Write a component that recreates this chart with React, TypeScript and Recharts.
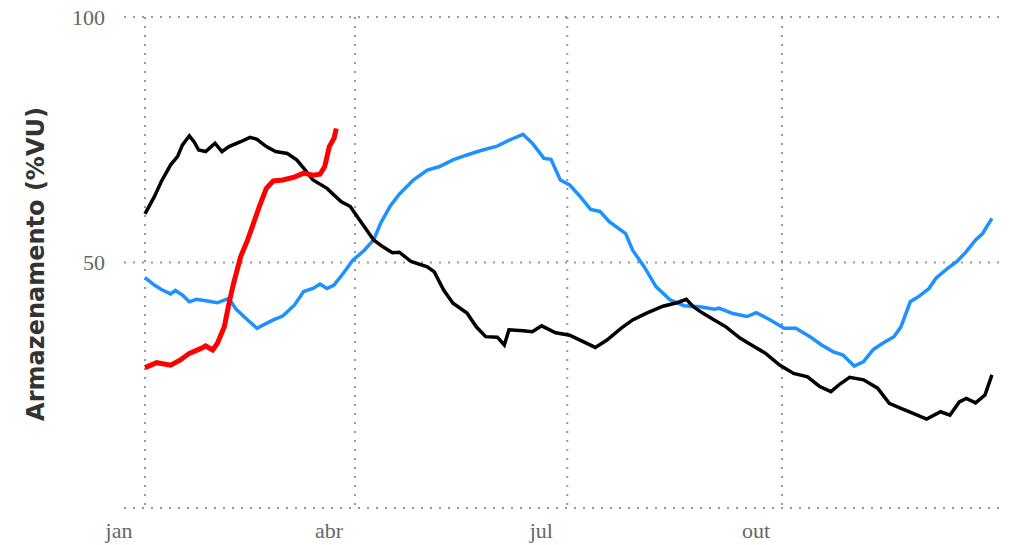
import { LineChart, Line, XAxis, YAxis, CartesianGrid } from "recharts";

// day of year (0 = 1 jan) and storage (%VU)
const blackDays = [0, 4, 7, 11, 14, 16, 19, 21, 23, 26, 30, 33, 36, 41, 45, 48, 52, 56, 61, 65, 68, 72, 78, 84, 88, 91, 95, 98, 102, 106, 109, 114, 121, 124, 128, 132, 138, 142, 146, 151, 154, 156, 162, 166, 170, 176, 182, 186, 193, 198, 204, 209, 215, 222, 228, 232, 235, 239, 244, 249, 255, 261, 266, 272, 278, 284, 289, 294, 298, 302, 308, 314, 319, 324, 329, 335, 341, 345, 349, 352, 356, 360, 363];
const blackVals = [59.9, 63.4, 66.5, 69.9, 71.6, 73.9, 75.8, 74.6, 72.9, 72.6, 74.3, 72.6, 73.6, 74.6, 75.5, 75.1, 73.6, 72.6, 72.2, 70.9, 69.2, 66.8, 65.1, 62.4, 61.4, 59.3, 56.6, 54.6, 53.2, 52.0, 52.1, 50.2, 49.1, 48.1, 44.4, 41.7, 39.7, 36.9, 34.9, 34.8, 33.2, 36.3, 36.1, 35.9, 37.1, 35.7, 35.2, 34.3, 32.7, 34.2, 36.6, 38.3, 39.7, 41.1, 41.8, 42.5, 41.0, 39.7, 38.3, 36.9, 34.6, 32.9, 31.5, 29.1, 27.4, 26.7, 24.8, 23.7, 25.3, 26.6, 26.1, 24.4, 21.3, 20.3, 19.3, 18.1, 19.6, 18.9, 21.6, 22.3, 21.4, 23.0, 27.1];

const blueDays = [0, 4, 7, 11, 13, 16, 19, 22, 26, 31, 36, 39, 44, 48, 52, 55, 59, 64, 68, 72, 75, 78, 81, 85, 89, 94, 98, 101, 105, 109, 115, 121, 126, 132, 138, 144, 151, 156, 162, 166, 171, 174, 178, 182, 186, 191, 195, 199, 206, 209, 214, 219, 225, 231, 238, 244, 246, 252, 258, 262, 268, 274, 279, 285, 290, 295, 299, 304, 308, 312, 316, 321, 324, 328, 332, 336, 339, 344, 348, 352, 356, 359, 363];
const blueVals = [46.9, 45.4, 44.5, 43.6, 44.3, 43.4, 42.0, 42.5, 42.2, 41.8, 42.7, 40.5, 38.3, 36.6, 37.6, 38.3, 39.1, 41.3, 44.1, 44.7, 45.6, 44.7, 45.4, 47.8, 50.4, 52.5, 54.6, 58.0, 61.4, 63.9, 66.8, 68.8, 69.5, 70.9, 71.9, 72.8, 73.7, 74.9, 76.1, 74.3, 71.2, 71.0, 66.8, 65.8, 63.7, 60.8, 60.4, 58.3, 55.9, 52.5, 49.1, 45.1, 42.4, 41.2, 41.0, 40.5, 40.7, 39.6, 39.0, 39.8, 38.3, 36.6, 36.6, 34.9, 33.2, 31.8, 31.2, 28.9, 29.8, 32.2, 33.5, 34.9, 36.9, 42.0, 43.2, 44.7, 46.8, 48.8, 50.2, 52.2, 54.6, 55.9, 59.0];

const redDays = [0, 5, 11, 15, 19, 24, 26, 29, 31, 34, 36, 38, 41, 44, 46, 49, 52, 55, 59, 64, 68, 72, 75, 77, 79, 81, 82];
const redVals = [28.6, 29.6, 29.1, 30.1, 31.5, 32.5, 33.0, 32.2, 33.5, 36.9, 41.7, 45.8, 51.2, 54.6, 57.3, 61.4, 65.1, 66.6, 66.8, 67.4, 68.2, 67.8, 68.0, 69.5, 73.6, 75.3, 77.3];

const monthTicks = [0, 90, 181, 273];
const monthLabels = ["jan", "abr", "jul", "out"];
const yTicks = [0, 50, 100];
const xDomain = [-9, 368.6];

const toRows = (days: number[], vals: number[]) => days.map((d, i) => ({ day: d, v: vals[i] }));
const blackData = toRows(blackDays, blackVals);
const blueData = toRows(blueDays, blueVals);
const redData = toRows(redDays, redVals);

const tickFont = { fontFamily: "'Liberation Serif', serif", fontSize: 22, fill: "#666" };

const XTick = (props: any) => {
  const i = monthTicks.indexOf(props.payload.value);
  return (
    <text x={props.x - 26} y={538} textAnchor="middle" {...tickFont}>
      {monthLabels[i]}
    </text>
  );
};

const YTick = (props: any) => {
  if (props.payload.value === 0) return <g />;
  return (
    <text x={105} y={props.y} textAnchor="end" dominantBaseline="central" {...tickFont}>
      {props.payload.value}
    </text>
  );
};

// only draw vertical grid lines at the month ticks, not at the plot edges
const verticalAtTicks = ({ xAxis, offset }: any) => {
  const sc = xAxis && xAxis.scale;
  if (typeof sc === "function") return monthTicks.map((t) => sc(t));
  return monthTicks.map((t) => offset.left + ((t - xDomain[0]) / (xDomain[1] - xDomain[0])) * offset.width);
};

export default function App() {
  return (
    <div style={{ position: "absolute", left: 0, top: 0, background: "#fff" }}>
      <LineChart width={1025} height={545} margin={{ top: 17, right: 20, bottom: 0, left: 0 }}>
        <CartesianGrid
          stroke="#999"
          strokeWidth={2}
          strokeDasharray="2 7"
          verticalCoordinatesGenerator={verticalAtTicks}
        />
        <XAxis
          type="number"
          dataKey="day"
          domain={xDomain}
          ticks={monthTicks}
          interval={0}
          allowDataOverflow
          axisLine={false}
          tickLine={false}
          height={37}
          tick={<XTick />}
        />
        <YAxis
          domain={[0, 100]}
          ticks={yTicks}
          interval={0}
          axisLine={false}
          tickLine={false}
          width={124}
          tick={<YTick />}
          label={{
            content: () => (
              <text
                x={36}
                y={264}
                transform="rotate(-90 36 264)"
                textAnchor="middle"
                dominantBaseline="central"
                fontFamily="'DejaVu Sans', sans-serif"
                fontWeight="bold"
                fontSize={24}
                fill="#333"
              >
                Armazenamento (%VU)
              </text>
            ),
          }}
        />
        <Line data={blueData} dataKey="v" stroke="#1E90FF" strokeWidth={3.5} dot={false} isAnimationActive={false} />
        <Line data={blackData} dataKey="v" stroke="#000" strokeWidth={3.5} dot={false} isAnimationActive={false} />
        <Line data={redData} dataKey="v" stroke="#FF0000" strokeWidth={5} dot={false} isAnimationActive={false} />
      </LineChart>
    </div>
  );
}
